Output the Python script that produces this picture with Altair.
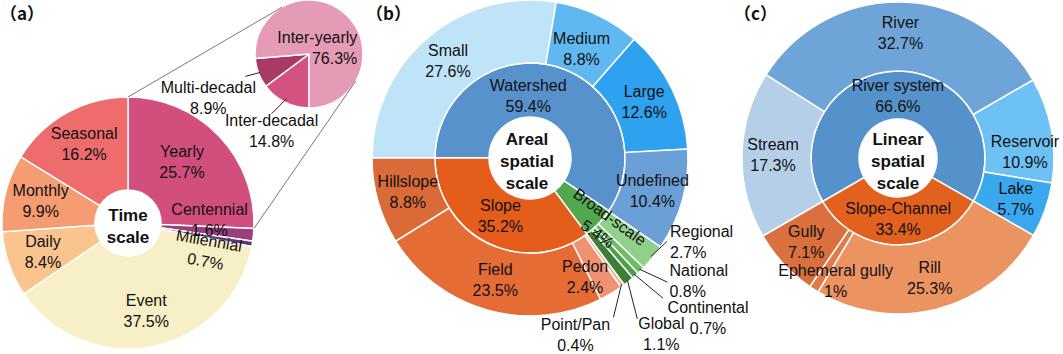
import math
import json
import altair as alt
import pandas as pd

# ---------------- data ----------------
# (a) time scale
a_names = ["Yearly", "Centennial", "Millennial", "Event", "Daily", "Monthly", "Seasonal"]
a_values = [25.7, 1.6, 0.7, 37.5, 8.4, 9.9, 16.2]
a_sub_names = ["Inter-decadal", "Multi-decadal", "Inter-yearly"]
a_sub_values = [14.8, 8.9, 76.3]
# (b) areal spatial scale
b_inner_names = ["Watershed", "Broad-scale", "Slope"]
b_inner_values = [59.4, 5.4, 35.2]
b_outer_names = ["Small", "Medium", "Large", "Undefined", "Regional", "National",
                 "Continental", "Global", "Point/Pan", "Pedon", "Field", "Hillslope"]
b_outer_values = [27.6, 8.8, 12.6, 10.4, 2.7, 0.8, 0.7, 1.1, 0.4, 2.4, 23.5, 8.8]
# (c) linear spatial scale
c_inner_names = ["River system", "Slope-Channel"]
c_inner_values = [66.6, 33.4]
c_outer_names = ["Stream", "River", "Reservoir", "Lake", "Rill", "Ephemeral gully", "Gully"]
c_outer_values = [17.3, 32.7, 10.9, 5.7, 25.3, 1, 7.1]

center_titles = [["Time", "scale"], ["Areal", "spatial", "scale"], ["Linear", "spatial", "scale"]]
panel_tags = ["（a）", "（b）", "（c）"]

# ---------------- palette ----------------
a_colors = ["#d24f7d", "#9a3f7c", "#5f3577", "#f7efc5", "#f9c48e", "#f59c72", "#ee6c6b"]
a_sub_colors = ["#d4527f", "#a83b66", "#e59bb6"]
b_inner_colors = ["#5892cd", "#52a84f", "#e45d1b"]
b_outer_colors = ["#bfe4f8", "#60b8f0", "#2ea2ef", "#6aa0d7", "#90d08a", "#6cbd63",
                  "#4e9f48", "#3b7f3a", "#f2b391", "#ee9272", "#e56c35", "#da6b38"]
c_inner_colors = ["#5591ca", "#e2611e"]
c_outer_colors = ["#b5cfe9", "#6ea4d7", "#6dc1f4", "#3aa8ee", "#ec9362", "#e07b48", "#d9703d"]

# ---------------- layout ----------------
FONT = "Liberation Sans"
TXT = "#111111"
LH = 21
W, H = 1063, 354
A_C, A_R0, A_R1, A_START = (128, 223), 33, 126, 0
P_C, P_R, P_START = (309, 54), 54, 180
B_C, B_R0, B_R1, B_R2, B_START = (530, 158), 41, 95, 158, 270
C_C, C_R0, C_R1, C_R2, C_START = (898, 158), 39, 87, 156, 240


def polar(c, r, deg):
    t = math.radians(deg)
    return c[0] + r * math.sin(t), c[1] - r * math.cos(t)


def mid_angles(names, values, start):
    total = float(sum(values))
    acc, out = 0.0, {}
    for n, v in zip(names, values):
        out[n] = start + (acc + v / 2) / total * 360
        acc += v
    return out


def make_base(names, values, colors, start):
    df = pd.DataFrame({"name": names, "value": values, "color": colors,
                       "order": list(range(len(names)))})
    total = float(sum(values))
    a0 = math.radians(start)
    sc = alt.Scale(domain=[0, total], range=[a0, a0 + 2 * math.pi], nice=False)
    base = (alt.Chart(df)
            .transform_stack(stack="value", groupby=[], as_=["v0", "v1"],
                             sort=[alt.SortField("order", order="ascending")])
            .transform_calculate(mid="(datum.v0 + datum.v1) / 2",
                                 label="datum.name + '\\n' + datum.value + '%'"))
    return base, sc


def arc_layer(base, sc, center, r0, r1, sw=1.5):
    return base.mark_arc(innerRadius=r0, outerRadius=r1, stroke="white", strokeWidth=sw).encode(
        theta=alt.Theta("v0:Q", scale=sc), theta2=alt.Theta2("v1"),
        color=alt.Color("color:N", scale=None),
        x=alt.value(center[0]), y=alt.value(center[1]))


def text_layer(base, sc, center, radius, only=None, exclude=None, dx=0, dy=0,
               align="center", angle=0, size=16):
    ch = base
    if only is not None:
        ch = ch.transform_filter(f"indexof({json.dumps(only)}, datum.name) >= 0")
    if exclude:
        ch = ch.transform_filter(f"indexof({json.dumps(exclude)}, datum.name) < 0")
    # two-line labels: Vega puts the first line on the anchor, so lift by half a line
    kw = dict(radius=radius, align=align, baseline="middle", lineBreak="\n", font=FONT,
              fontSize=size, lineHeight=LH, color=TXT, dy=dy - LH / 2)
    if dx:
        kw["dx"] = dx
    if angle:
        kw["angle"] = angle
    return ch.mark_text(**kw).encode(
        theta=alt.Theta("mid:Q", scale=sc, stack=False), text="label:N",
        x=alt.value(center[0]), y=alt.value(center[1]))


layers = []
lead_rows = []

# ---- (a) donut + pie ----
a_base, a_sc = make_base(a_names, a_values, a_colors, A_START)
p_base, p_sc = make_base(a_sub_names, a_sub_values, a_sub_colors, P_START)
layers += [arc_layer(a_base, a_sc, A_C, A_R0, A_R1), arc_layer(p_base, p_sc, P_C, 0, P_R)]

yearly_end = a_values[0] / sum(a_values) * 360
conn = []
for (da, pa) in [(0, 330), (yearly_end, 120)]:
    x1, y1 = polar(A_C, A_R1, da)
    x2, y2 = polar(P_C, P_R, pa)
    conn.append({"x": x1, "y": y1, "x2": x2, "y2": y2})
layers.append(alt.Chart(pd.DataFrame(conn)).mark_rule(color="#777777", strokeWidth=1).encode(
    x=alt.X("x:Q", scale=None, axis=None), y=alt.Y("y:Q", scale=None, axis=None),
    x2=alt.X2("x2"), y2=alt.Y2("y2")))

a_over = {"Yearly": dict(dx=-11, dy=2), "Centennial": dict(dx=-8, dy=-11),
          "Millennial": dict(dx=-7, dy=15, angle=10)}
layers.append(text_layer(a_base, a_sc, A_C, 90, exclude=list(a_over)))
for n, kw in a_over.items():
    layers.append(text_layer(a_base, a_sc, A_C, 90, only=[n], **kw))

p_mid = mid_angles(a_sub_names, a_sub_values, P_START)
layers.append(text_layer(p_base, p_sc, P_C, 30, only=["Inter-yearly"], dx=28, dy=17, align="right"))
for n, r, ld, td in [("Multi-decadal", 52, (-15, 4), (-52, 26)),
                     ("Inter-decadal", 50, (-15, 15), (-15, 33))]:
    sx, sy = polar(P_C, r, p_mid[n])
    lead_rows.append({"x": sx, "y": sy, "x2": sx + ld[0], "y2": sy + ld[1]})
    layers.append(text_layer(p_base, p_sc, P_C, r, only=[n], dx=td[0], dy=td[1]))

# ---- (b) ----
bi_base, bi_sc = make_base(b_inner_names, b_inner_values, b_inner_colors, B_START)
bo_base, bo_sc = make_base(b_outer_names, b_outer_values, b_outer_colors, B_START)
layers += [arc_layer(bi_base, bi_sc, B_C, B_R0, B_R1), arc_layer(bo_base, bo_sc, B_C, B_R1, B_R2)]
bi_over = {"Watershed": dict(dx=-21, dy=2), "Broad-scale": dict(radius=90, angle=36, dx=10)}
layers.append(text_layer(bi_base, bi_sc, B_C, 66, exclude=list(bi_over)))
for n, kw in bi_over.items():
    kw = dict(kw)
    r = kw.pop("radius", 66)
    layers.append(text_layer(bi_base, bi_sc, B_C, r, only=[n], **kw))

b_ext = {"Regional": ((16, -15), (19, -14), "left"),
         "National": ((28, 13), (30, 12), "left"),
         "Continental": ((29, 24), (74, 44), "center"),
         "Global": ((10, 39), (34, 55), "center"),
         "Point/Pan": ((-8, 33), (-46, 51), "center")}
bo_over = {"Medium": dict(radius=120), "Pedon": dict(dx=-10, dy=10)}
layers.append(text_layer(bo_base, bo_sc, B_C, 127, exclude=list(b_ext) + list(bo_over)))
for n, kw in bo_over.items():
    kw = dict(kw)
    r = kw.pop("radius", 127)
    layers.append(text_layer(bo_base, bo_sc, B_C, r, only=[n], **kw))
bo_mid = mid_angles(b_outer_names, b_outer_values, B_START)
for n, (ld, td, al) in b_ext.items():
    sx, sy = polar(B_C, 156, bo_mid[n])
    lead_rows.append({"x": sx, "y": sy, "x2": sx + ld[0], "y2": sy + ld[1]})
    layers.append(text_layer(bo_base, bo_sc, B_C, 156, only=[n], dx=td[0], dy=td[1], align=al))

# ---- (c) ----
ci_base, ci_sc = make_base(c_inner_names, c_inner_values, c_inner_colors, C_START)
co_base, co_sc = make_base(c_outer_names, c_outer_values, c_outer_colors, C_START)
layers += [arc_layer(ci_base, ci_sc, C_C, C_R0, C_R1), arc_layer(co_base, co_sc, C_C, C_R1, C_R2)]
layers.append(text_layer(ci_base, ci_sc, C_C, 62))
co_over = {"Reservoir": dict(dx=4, dy=17), "Ephemeral gully": dict(dx=5, dy=18)}
layers.append(text_layer(co_base, co_sc, C_C, 125, exclude=list(co_over)))
for n, kw in co_over.items():
    layers.append(text_layer(co_base, co_sc, C_C, 125, only=[n], **kw))

# ---- leader lines ----
layers.append(alt.Chart(pd.DataFrame(lead_rows)).mark_rule(color="#222222", strokeWidth=1).encode(
    x=alt.X("x:Q", scale=None, axis=None), y=alt.Y("y:Q", scale=None, axis=None),
    x2=alt.X2("x2"), y2=alt.Y2("y2")))

# ---- centre titles and panel tags ----
one = pd.DataFrame({"k": [0]})
TLH = 22
for title, (cx, cy) in zip(center_titles, [(128, 227), (527, 162), (898, 162)]):
    layers.append(alt.Chart(one).mark_text(font=FONT, fontWeight="bold", fontSize=17, lineHeight=TLH,
                                           baseline="middle", align="center", color=TXT,
                                           dy=-(len(title) - 1) * TLH / 2).encode(
        text=alt.value(title), x=alt.value(cx), y=alt.value(cy)))
for tag, tx in zip(panel_tags, [0, 366, 734]):
    layers.append(alt.Chart(one).mark_text(font="Noto Sans CJK SC", fontWeight="bold", fontSize=17,
                                           baseline="middle", align="left", color=TXT).encode(
        text=alt.value(tag), x=alt.value(tx), y=alt.value(15)))

chart = (alt.layer(*layers)
         .resolve_scale(theta="independent")
         .properties(width=W, height=H, autosize=alt.AutoSizeParams(type="none"), padding=0,
                     background="white")
         .configure_view(strokeWidth=0))

chart.save("out.html", embed_options={"renderer": "svg", "actions": False})
